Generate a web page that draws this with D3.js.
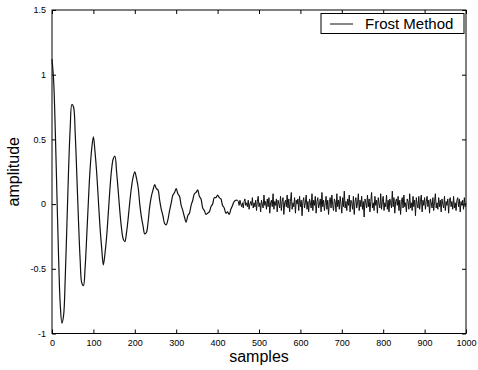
<!DOCTYPE html>
<html>
<head>
<meta charset="utf-8">
<script src="https://cdn.jsdelivr.net/npm/d3@7"></script>
<style>
  body { margin: 0; background: #fff; }
  text { font-family: "Liberation Sans", Arial, sans-serif; fill: #000; }
</style>
</head>
<body>
<div id="chart"></div>
<script>
// decaying part, one value every 4 samples (0..448)
var decayStep = 4;
var decayValues = [
  1.12, 0.95, 0.56, 0.06, -0.42, -0.78, -0.92, -0.86, -0.57, -0.16,
  0.26, 0.59, 0.77, 0.75, 0.55, 0.22, -0.13, -0.43, -0.61, -0.63,
  -0.49, -0.24, 0.03, 0.27, 0.43, 0.52, 0.40, 0.24, 0.03, -0.18,
  -0.34, -0.47, -0.38, -0.25, -0.07, 0.12, 0.27, 0.35, 0.37, 0.25,
  0.10, -0.06, -0.19, -0.27, -0.29, -0.22, -0.11, 0.02, 0.13, 0.21,
  0.25, 0.20, 0.13, 0.00, -0.10, -0.17, -0.23, -0.22, -0.14, -0.02,
  0.06, 0.11, 0.15, 0.12, 0.11, 0.03, -0.04, -0.09, -0.15, -0.16,
  -0.12, -0.05, 0.01, 0.07, 0.09, 0.12, 0.08, 0.06, -0.01, -0.05,
  -0.10, -0.14, -0.09, -0.07, -0.01, 0.03, 0.08, 0.09, 0.11, 0.06,
  0.04, -0.03, -0.05, -0.08, -0.07, -0.06, -0.02, 0.00, 0.05, 0.05,
  0.07, 0.05, 0.04, -0.01, -0.03, -0.07, -0.06, -0.08, -0.04, -0.01,
  0.02, 0.03, 0.03
];
// noisy tail, one value every 2 samples (450..1000)
var tailStart = 450, tailStep = 2;
var tailValues = [
  0.02, -0.01, 0.03, 0.00, -0.02, 0.01, -0.03, 0.02, 0.04, -0.01, 0.01, -0.02,
  0.03, -0.04, 0.00, 0.02, -0.01, 0.05, -0.03, 0.01, -0.02, 0.03, -0.05, 0.02,
  0.06, -0.02, 0.01, -0.06, 0.03, 0.00, -0.03, 0.07, -0.01, 0.02, -0.04, 0.04,
  -0.02, 0.05, -0.07, 0.01, 0.03, -0.02, 0.08, -0.04, 0.02, -0.01, 0.04, -0.06,
  0.03, 0.00, -0.03, 0.06, -0.05, 0.02, 0.05, -0.08, 0.01, 0.03, -0.02, 0.07,
  -0.03, 0.04, -0.06, 0.02, 0.09, -0.04, 0.01, -0.02, 0.05, -0.07, 0.03, 0.00,
  0.04, -0.05, 0.06, -0.02, 0.03, -0.09, 0.02, 0.05, -0.03, 0.01, 0.07, -0.04,
  0.02, -0.06, 0.04, 0.01, -0.03, 0.08, -0.05, 0.03, -0.01, 0.06, -0.07, 0.02,
  0.05, -0.03, 0.00, 0.04, -0.06, 0.09, -0.02, 0.03, -0.05, 0.01, 0.06, -0.04,
  0.03, -0.08, 0.02, 0.05, -0.03, 0.07, -0.01, -0.05, 0.04, 0.02, -0.06, 0.08,
  -0.02, 0.03, -0.04, 0.06, 0.00, -0.07, 0.05, -0.02, 0.10, -0.03, 0.02, -0.05,
  0.04, -0.01, 0.07, -0.06, 0.03, 0.01, -0.04, 0.06, -0.08, 0.02, 0.05, -0.03,
  0.01, 0.08, -0.05, 0.03, -0.02, 0.06, -0.04, 0.02, -0.10, 0.04, 0.01, -0.03,
  0.07, -0.02, 0.04, -0.06, 0.02, 0.09, -0.03, 0.01, -0.05, 0.06, -0.01, 0.03,
  -0.07, 0.05, 0.00, -0.03, 0.08, -0.04, 0.02, 0.06, -0.05, 0.01, -0.02, 0.07,
  -0.04, 0.03, -0.06, 0.04, 0.01, -0.03, 0.10, -0.02, 0.05, -0.07, 0.02, 0.04,
  -0.01, 0.06, -0.05, 0.03, -0.08, 0.02, 0.05, -0.03, 0.07, -0.02, 0.01, -0.06,
  0.04, 0.02, -0.04, 0.08, -0.03, 0.01, -0.05, 0.06, -0.02, 0.03, -0.09, 0.05,
  0.00, -0.03, 0.06, -0.04, 0.02, 0.07, -0.06, 0.03, -0.01, 0.05, -0.04, 0.02,
  0.06, -0.02, 0.03, -0.07, 0.04, 0.01, -0.03, 0.05, -0.05, 0.02, 0.08, -0.03,
  0.01, -0.04, 0.05, -0.02, 0.03, -0.06, 0.04, 0.00, -0.03, 0.06, -0.05, 0.02,
  -0.01, 0.04, -0.07, 0.03, 0.05, -0.02, 0.02, -0.04, 0.06, -0.03, 0.01, -0.05,
  0.03, 0.05, -0.02, 0.04, -0.06, 0.02, -0.01, 0.03, -0.04, 0.05, -0.02, 0.01
];
var xTicks = [0, 100, 200, 300, 400, 500, 600, 700, 800, 900, 1000];
var yTicks = [-1, -0.5, 0, 0.5, 1, 1.5];
var seriesName = "Frost Method";

var W = 478, H = 370;
var margin = { top: 10, right: 12, bottom: 36, left: 52 };

var svg = d3.select("#chart").append("svg")
  .attr("width", W)
  .attr("height", H);

svg.append("rect").attr("width", W).attr("height", H).attr("fill", "#fff");

var x = d3.scaleLinear().domain([0, 1000]).range([margin.left, W - margin.right]);
var y = d3.scaleLinear().domain([-1, 1.5]).range([H - margin.bottom - 0.5, margin.top]);

// box
svg.append("rect")
  .attr("x", x(0)).attr("y", y(1.5))
  .attr("width", x(1000) - x(0)).attr("height", y(-1) - y(1.5))
  .attr("fill", "none").attr("stroke", "#000").attr("stroke-width", 1);

// axes with inside ticks, matlab style
svg.append("g")
  .attr("transform", "translate(0," + y(-1) + ")")
  .call(d3.axisBottom(x).tickValues(xTicks).tickSizeInner(-4).tickSizeOuter(0).tickPadding(6)
    .tickFormat(d3.format("d")))
  .call(function (g) { g.select(".domain").remove(); g.selectAll("text").attr("font-size", 9); });

svg.append("g")
  .attr("transform", "translate(0," + y(1.5) + ")")
  .call(d3.axisTop(x).tickValues(xTicks).tickSizeInner(-4).tickSizeOuter(0).tickFormat(""))
  .call(function (g) { g.select(".domain").remove(); });

svg.append("g")
  .attr("transform", "translate(" + x(0) + ",0)")
  .call(d3.axisLeft(y).tickValues(yTicks).tickSizeInner(-4).tickSizeOuter(0).tickPadding(6)
    .tickFormat(function (d) { return String(d); }))
  .call(function (g) { g.select(".domain").remove(); g.selectAll("text").attr("font-size", 9); });

svg.append("g")
  .attr("transform", "translate(" + x(1000) + ",0)")
  .call(d3.axisRight(y).tickValues(yTicks).tickSizeInner(-4).tickSizeOuter(0).tickFormat(""))
  .call(function (g) { g.select(".domain").remove(); });

// signal
var decayPts = decayValues.map(function (v, i) { return { s: i * decayStep, v: v }; });
var tailPts = tailValues.map(function (v, i) { return { s: tailStart + i * tailStep, v: v }; });
tailPts.unshift(decayPts[decayPts.length - 1]);

var smooth = d3.line()
  .x(function (d) { return x(d.s); })
  .y(function (d) { return y(d.v); })
  .curve(d3.curveCatmullRom);
var jagged = d3.line()
  .x(function (d) { return x(d.s); })
  .y(function (d) { return y(d.v); });

svg.append("path")
  .datum(decayPts)
  .attr("d", smooth)
  .attr("fill", "none")
  .attr("stroke", "#111")
  .attr("stroke-width", 1.2);

svg.append("path")
  .datum(tailPts)
  .attr("d", jagged)
  .attr("fill", "none")
  .attr("stroke", "#111")
  .attr("stroke-width", 1);

// axis titles
svg.append("text")
  .attr("x", (x(0) + x(1000)) / 2)
  .attr("y", 362)
  .attr("text-anchor", "middle")
  .attr("font-size", 16)
  .text("samples");

svg.append("text")
  .attr("transform", "translate(19," + ((y(1.5) + y(-1)) / 2) + ") rotate(-90)")
  .attr("text-anchor", "middle")
  .attr("font-size", 16)
  .text("amplitude");

// legend
var leg = svg.append("g");
leg.append("rect")
  .attr("x", 321).attr("y", 13.5).attr("width", 143).attr("height", 20)
  .attr("fill", "#fff").attr("stroke", "#000");
leg.append("line")
  .attr("x1", 330).attr("x2", 353).attr("y1", 24).attr("y2", 24)
  .attr("stroke", "#111");
leg.append("text")
  .attr("x", 365).attr("y", 29)
  .attr("font-size", 15)
  .text(seriesName);
</script>
</body>
</html>
